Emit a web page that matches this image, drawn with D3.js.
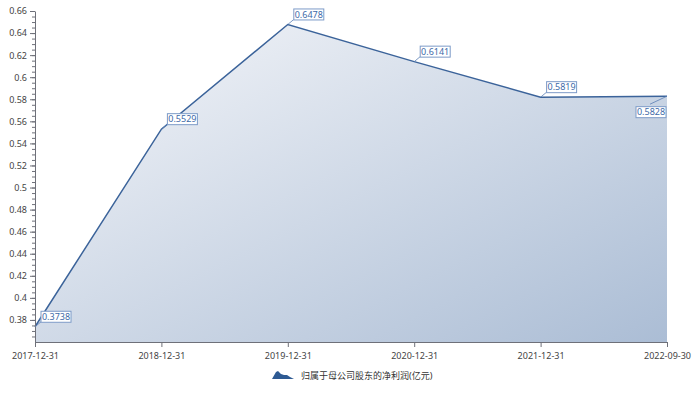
<!DOCTYPE html>
<html lang="zh-CN">
  <head>
    <meta charset="UTF-8">
    <title>归属于母公司股东的净利润</title>
    <style>
      html, body {
        margin: 0;
        padding: 0;
        background: #fff;
      }

      text {
        font-family: "Noto Sans", "Noto Sans CJK SC", sans-serif;
      }

      .axis path, .axis line {
        stroke: #6e7079;
      }

      .axis text {
        font-size: 9px;
        fill: #444;
      }

      .lbl rect {
        fill: #fff;
        stroke: #7d9bc8;
        stroke-width: 1px;
      }

      .lbl text {
        font-size: 9px;
        fill: #3d6aa8;
      }
    </style>
  </head>
  <body>
    <svg width="700" height="393"></svg>
    <script src="https://cdn.jsdelivr.net/npm/d3@7"></script>
    <script>

      // 数据
      const dates = ['2017-12-31', '2018-12-31', '2019-12-31', '2020-12-31', '2021-12-31', '2022-09-30']
      const profits = [0.3738, 0.5529, 0.6478, 0.6141, 0.5819, 0.5828]
      const yTicks = [0.38, 0.4, 0.42, 0.44, 0.46, 0.48, 0.5, 0.52, 0.54, 0.56, 0.58, 0.6, 0.62, 0.64, 0.66]
      const seriesName = '归属于母公司股东的净利润(亿元)'

      const svg = d3.select('svg')

      const x = d3.scalePoint().domain(dates).range([35, 667])
      const y = d3.scaleLinear().domain([0.36, 0.66]).range([342, 11])

      const data = dates.map(function (d, i) { return { date: d, value: profits[i] } })

      // 渐变填充
      const grad = svg.append('defs').append('linearGradient')
        .attr('id', 'areaGrad')
        .attr('x1', 0).attr('y1', 0).attr('x2', 1).attr('y2', 1)
      grad.append('stop').attr('offset', '0%').attr('stop-color', '#f6f7fa')
      grad.append('stop').attr('offset', '100%').attr('stop-color', '#abbdd5')

      const area = d3.area()
        .x(function (d) { return x(d.date) })
        .y0(y(0.36))
        .y1(function (d) { return y(d.value) })

      const line = d3.line()
        .x(function (d) { return x(d.date) })
        .y(function (d) { return y(d.value) })

      svg.append('path')
        .datum(data)
        .attr('d', area)
        .attr('fill', 'url(#areaGrad)')

      svg.append('path')
        .datum(data)
        .attr('d', line)
        .attr('fill', 'none')
        .attr('stroke', '#3b639a')
        .attr('stroke-width', 1.5)

      // y轴 次刻度
      const minor = d3.range(0.365, 0.6601, 0.005)
      svg.append('g')
        .attr('class', 'axis')
        .attr('transform', 'translate(35,0)')
        .call(d3.axisLeft(y).tickValues(minor).tickSize(3).tickFormat('').tickSizeOuter(0))

      // y轴 主刻度
      svg.append('g')
        .attr('class', 'axis')
        .attr('transform', 'translate(35,0)')
        .call(d3.axisLeft(y).tickValues(yTicks).tickSize(5).tickSizeOuter(0).tickPadding(3)
          .tickFormat(function (d) { return String(+d.toFixed(2)) }))
        .select('.domain').remove()

      // x轴
      svg.append('g')
        .attr('class', 'axis')
        .attr('transform', 'translate(0,' + y(0.36) + ')')
        .call(d3.axisBottom(x).tickSize(5).tickSizeOuter(0).tickPadding(6))

      // 数据标签
      const lbl = svg.append('g').selectAll('.lbl')
        .data(data)
        .enter().append('g')
        .attr('class', 'lbl')

      lbl.each(function (d, i) {
        const g = d3.select(this)
        const px = x(d.date), py = y(d.value)
        const last = i === data.length - 1
        // 标签框左上角
        const bx = last ? px - 31 : px + 6
        const by = last ? py + 10.5 : py - 15.5
        const ex = last ? px - 17 : px + 6
        const ey = last ? py + 8 : py - 5
        g.append('line')
          .attr('x1', px).attr('y1', py)
          .attr('x2', ex).attr('y2', ey)
          .attr('stroke', '#5a7fb5')
          .attr('stroke-width', 0.8)
        g.append('rect')
          .attr('x', bx).attr('y', by)
          .attr('width', 30).attr('height', 11)
        g.append('text')
          .attr('x', bx + 15).attr('y', by + 8.8)
          .attr('text-anchor', 'middle')
          .text(d.value.toFixed(4))
      })

      // 图例
      const legend = svg.append('g').attr('transform', 'translate(272,371)')
      legend.append('path')
        .attr('d', 'M0,8 L4,1 L6,0 L9,3 L12,4 L15,4 L18,6 L22,8 Z')
        .attr('fill', '#2e5a93')
      legend.append('text')
        .attr('x', 29).attr('y', 8)
        .attr('font-size', '9px')
        .attr('fill', '#333')
        .text(seriesName)

    </script>
  </body>
</html>
